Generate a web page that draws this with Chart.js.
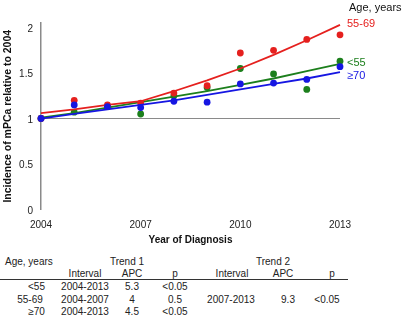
<!DOCTYPE html>
<html>
<head>
<meta charset="utf-8">
<script src="https://cdn.jsdelivr.net/npm/chart.js@4/dist/chart.umd.min.js"></script>
<style>
  html, body { margin: 0; padding: 0; background: #fff; }
  #wrap { position: relative; width: 405px; height: 318px; overflow: hidden; font-family: "Liberation Sans", Arial, sans-serif; color: #222; }
  #c { position: absolute; left: 0; top: 0; }
  .t { position: absolute; white-space: nowrap; font-size: 10px; line-height: 12px; transform: translate(-50%, -50%); }
  .l { position: absolute; white-space: nowrap; font-size: 10px; line-height: 12px; transform: translate(0, -50%); }
  .lg { position: absolute; white-space: nowrap; font-size: 11px; line-height: 13px; transform: translate(0, -50%); }
  #rule { position: absolute; left: 0; top: 279px; width: 348px; height: 1px; background: #333; }
</style>
</head>
<body>
<div id="wrap">
  <canvas id="c" width="405" height="250"></canvas>
  <div id="rule"></div>
</div>
<script>
// ---- data ----
const years = [2004, 2005, 2006, 2007, 2008, 2009, 2010, 2011, 2012, 2013];
const obsUnder55 = [1.00, 1.07, 1.13, 1.05, 1.25, 1.34, 1.55, 1.49, 1.32, 1.63];
const obs55to69  = [1.00, 1.20, 1.15, 1.17, 1.28, 1.36, 1.72, 1.75, 1.87, 1.92];
const obs70plus  = [1.00, 1.15, 1.13, 1.12, 1.19, 1.18, 1.38, 1.39, 1.43, 1.57];
const trendUnder55 = [1.01, 1.06, 1.12, 1.18, 1.24, 1.30, 1.37, 1.44, 1.52, 1.60];
const trend55to69  = [1.06, 1.10, 1.15, 1.19, 1.30, 1.42, 1.55, 1.70, 1.86, 2.03];
const trend70plus  = [1.00, 1.05, 1.10, 1.15, 1.20, 1.26, 1.32, 1.38, 1.44, 1.51];
const seriesLabels = ['<55', '55-69', '\u226570'];
const xTicks = [2004, 2007, 2010, 2013];
const yTicks = [0, 0.5, 1, 1.5, 2];

// table
const tableHeader1 = ['Age, years', 'Trend 1', 'Trend 2'];
const tableHeader2 = ['Interval', 'APC', 'p', 'Interval', 'APC', 'p'];
const tableAge = ['<55', '55-69', '\u226570'];
const trend1Interval = ['2004-2013', '2004-2007', '2004-2013'];
const trend1APC = ['5.3', '4', '4.5'];
const trend1P = ['<0.05', '0.5', '<0.05'];
const trend2Interval = ['', '2007-2013', ''];
const trend2APC = ['', '9.3', ''];
const trend2P = ['', '<0.05', ''];

// ---- styles ----
const RED = '#e5201e', GREEN = '#1c7f1c', BLUE = '#1616e2';
const pts = (ys) => years.map((x, i) => ({x: x, y: ys[i]}));

function pointSet(label, ys, color) {
  return { label: label, data: pts(ys), showLine: false, pointRadius: 3.4, pointHoverRadius: 3.4,
           pointBackgroundColor: color, pointBorderColor: color, pointBorderWidth: 0, clip: false };
}
function lineSet(label, ys, color) {
  return { label: label, data: pts(ys), showLine: true, pointRadius: 0, borderColor: color,
           borderWidth: 1.8, tension: 0, fill: false, clip: false };
}

new Chart(document.getElementById('c'), {
  type: 'scatter',
  data: {
    datasets: [
      pointSet(seriesLabels[2], obs70plus, BLUE),
      lineSet(seriesLabels[2] + ' trend', trend70plus, BLUE),
      pointSet(seriesLabels[1], obs55to69, RED),
      lineSet(seriesLabels[1] + ' trend', trend55to69, RED),
      pointSet(seriesLabels[0], obsUnder55, GREEN),
      lineSet(seriesLabels[0] + ' trend', trendUnder55, GREEN)
    ]
  },
  options: {
    responsive: false,
    devicePixelRatio: 1,
    animation: false,
    layout: { padding: { left: 0, right: 65, top: 23, bottom: 0 } },
    plugins: { legend: { display: false }, tooltip: { enabled: false } },
    scales: {
      x: {
        type: 'linear', min: xTicks[0], max: xTicks[xTicks.length - 1],
        afterBuildTicks: (s) => { s.ticks = xTicks.map(v => ({value: v})); },
        afterFit: (s) => { s.height = 40.5; },
        grid: { display: false },
        border: { display: false },
        ticks: { color: '#222', font: { family: 'Liberation Sans', size: 10 }, padding: 2,
                 maxRotation: 0, callback: (v) => String(v) },
        title: { display: true, text: 'Year of Diagnosis', color: '#111',
                 font: { family: 'Liberation Sans', size: 10, weight: 'bold' }, padding: { top: 0, bottom: 4 } }
      },
      y: {
        type: 'linear', min: 0, max: 2.05,
        afterBuildTicks: (s) => { s.ticks = yTicks.map(v => ({value: v})); },
        afterFit: (s) => { s.width = 41; },
        grid: { display: true, drawTicks: false,
                color: (ctx) => (ctx.tick && ctx.tick.value === 1) ? '#8a8a8a' : 'rgba(0,0,0,0)', lineWidth: 1 },
        border: { display: true, color: '#8a8a8a', width: 1.5 },
        ticks: { color: '#222', font: { family: 'Liberation Sans', size: 10 }, padding: 8, labelOffset: 1.5,
                 callback: (v) => String(v) },
        title: { display: true, text: 'Incidence of mPCa relative to 2004', color: '#111',
                 font: { family: 'Liberation Sans', size: 10.5, weight: 'bold' }, padding: { top: 2, bottom: 0 } }
      }
    }
  }
});

// ---- text outside the plot: series labels and table ----
const wrap = document.getElementById('wrap');
function put(cls, text, x, y, color) {
  const d = document.createElement('div');
  d.className = cls; d.textContent = text;
  d.style.left = x + 'px'; d.style.top = y + 'px';
  if (color) d.style.color = color;
  wrap.appendChild(d);
}
put('lg', 'Age, years', 349, 7, '#111');
put('lg', seriesLabels[1], 347, 23, RED);
put('lg', seriesLabels[0], 347, 61.5, GREEN);
put('lg', seriesLabels[2], 347, 74.5, BLUE);

put('l', tableHeader1[0], 5, 262);
put('t', tableHeader1[1], 127, 262);
put('t', tableHeader1[2], 273, 262);
const h2x = [85, 132, 175, 232, 283, 332];
tableHeader2.forEach((s, i) => put('t', s, h2x[i], 274));
const rowY = [287, 300, 311.5];
const ageX = [36.5, 30, 36.5];
tableAge.forEach((s, i) => {
  put('t', s, ageX[i], rowY[i]);
  put('t', trend1Interval[i], 85, rowY[i]);
  put('t', trend1APC[i], 132, rowY[i]);
  put('t', trend1P[i], 175, rowY[i]);
  if (trend2Interval[i]) put('t', trend2Interval[i], 231, rowY[i]);
  if (trend2APC[i]) put('t', trend2APC[i], 288, rowY[i]);
  if (trend2P[i]) put('t', trend2P[i], 327, rowY[i]);
});
</script>
</body>
</html>
